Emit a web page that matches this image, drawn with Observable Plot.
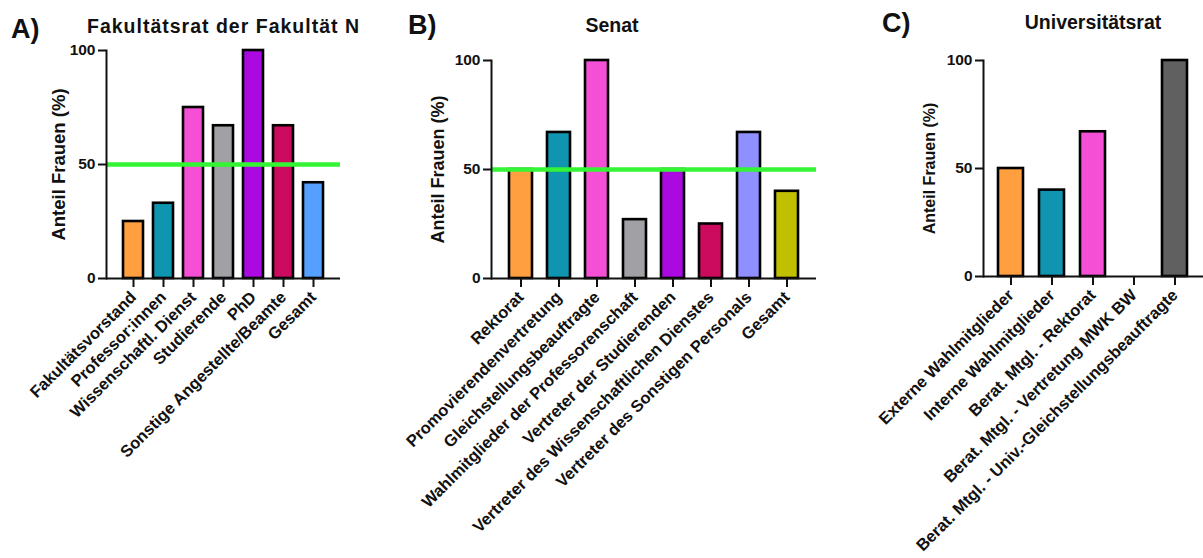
<!DOCTYPE html>
<html><head><meta charset="utf-8">
<script src="https://cdn.jsdelivr.net/npm/d3@7"></script>
<script src="https://cdn.jsdelivr.net/npm/@observablehq/plot@0.6"></script>
<style>
body{margin:0;background:#fff;}
#wrap{position:relative;width:1203px;height:558px;overflow:hidden;font-family:"Liberation Sans",Arial,sans-serif;font-weight:bold;color:#111;}
.panel{position:absolute;top:0;}
.lbl{position:absolute;font-size:27px;line-height:1;}
.ttl{position:absolute;font-size:19.5px;line-height:1;white-space:nowrap;}
</style></head><body><div id="wrap"></div>
<script>
// Panel A – Fakultätsrat der Fakultät N
const catsA = ["Fakultätsvorstand","Professor:innen","Wissenschaftl. Dienst","Studierende","PhD","Sonstige Angestellte/Beamte","Gesamt"];
const valsA = [25,33,75,67,100,67,42];
const colorsA = ["#FF9F40","#1095B0","#F550D5","#A0A0A5","#AA0AE0","#CC0A5E","#55A0FF"];
// Panel B – Senat
const catsB = ["Rektorat","Promovierendenvertretung","Gleichstellungsbeauftragte","Wahlmitglieder der Professorenschaft","Vertreter der Studierenden","Vertreter des Wissenschaftlichen Dienstes","Vertreter des Sonstigen Personals","Gesamt"];
const valsB = [50,67,100,27,50,25,67,40];
const colorsB = ["#FF9F40","#1095B0","#F550D5","#A0A0A5","#AA0AE0","#CC0A5E","#8F8FFF","#C0C000"];
// Panel C – Universitätsrat
const catsC = ["Externe Wahlmitglieder","Interne Wahlmitglieder","Berat. Mtgl. - Rektorat","Berat. Mtgl. - Vertretung MWK BW","Berat. Mtgl. - Univ.-Gleichstellungsbeauftragte"];
const valsC = [50,40,67,0,100];
const colorsC = ["#FF9F40","#1095B0","#F550D5","#FFFFFF","#606060"];
const yTicks = [0,50,100];
const parity = 50;
const yLabel = "Anteil Frauen (%)";

const wrap = document.getElementById("wrap");

function panel(o){
  const data = o.cats.map((c,i)=>({cat:c, val:o.vals[i]}));
  const svg = Plot.plot({
    width:o.width, height:558,
    marginLeft:o.ml, marginRight:o.mr, marginTop:o.mt, marginBottom:o.mb,
    style:{fontFamily:'"Liberation Sans", Arial, sans-serif', fontWeight:"bold", fontSize:"15px", color:"#111", background:"transparent", overflow:"visible"},
    x:{domain:o.cats, paddingInner:o.pi, paddingOuter:o.po, label:null},
    y:{domain:[0,100]},
    color:{domain:o.cats, range:o.colors},
    marks:[
      Plot.barY(data.filter(d=>d.val>0), {x:"cat", y:"val", fill:"cat", stroke:"#000", strokeWidth:2.6}),
      Plot.ruleY([parity], o.lineFromFirst ? {x1:()=>o.cats[0], stroke:"#33F533", strokeWidth:4.5} : {stroke:"#33F533", strokeWidth:4.5}),
      Plot.frame({anchor:"left", strokeWidth:2, stroke:"#111"}),
      Plot.ruleY([0], {strokeWidth:2, stroke:"#111"}),
      Plot.axisY({ticks:yTicks, tickSize:8, tickPadding:3, strokeWidth:2, label:null, fontSize:15.5}),
      Plot.axisY({ticks:yTicks, tickSize:0, tickFormat:()=>"", label:yLabel, labelAnchor:"center", labelArrow:"none", labelOffset:o.lo, fontSize:o.lfs}),
      Plot.axisX({tickSize:9, tickPadding:7, strokeWidth:2, tickRotate:-45, label:null, fontSize:16.5})
    ]
  });
  svg.classList.add("panel");
  svg.style.left = o.left+"px";
  wrap.appendChild(svg);
}

panel({cats:catsA, vals:valsA, colors:colorsA, left:0, width:345, ml:106, mr:5, mt:50, mb:280, pi:0.35, po:0.55, lo:55, lfs:18.5});
panel({cats:catsB, vals:valsB, colors:colorsB, left:400, width:420, ml:91, mr:4, mt:60, mb:280, pi:0.4, po:0.37, lo:60, lfs:18});
panel({cats:catsC, vals:valsC, colors:colorsC, left:820, width:383, ml:163, mr:0, mt:60, mb:282, pi:0.39, po:0.37, lo:60, lfs:16, lineFromFirst:true});

function addText(cls, txt, x, y, center, spacing){
  const d = document.createElement("div");
  d.className = cls; d.textContent = txt;
  d.style.left = x+"px"; d.style.top = y+"px";
  if (center) d.style.transform = "translateX(-50%)";
  if (spacing) d.style.letterSpacing = spacing+"px";
  wrap.appendChild(d);
}
addText("lbl","A)",11,16);
addText("ttl","Fakultätsrat der Fakultät N",87,17,false,1.0);
addText("lbl","B)",408,12);
addText("ttl","Senat",612,16,true);
addText("lbl","C)",882,10);
addText("ttl","Universitätsrat",1093,13,true);
</script></body></html>
